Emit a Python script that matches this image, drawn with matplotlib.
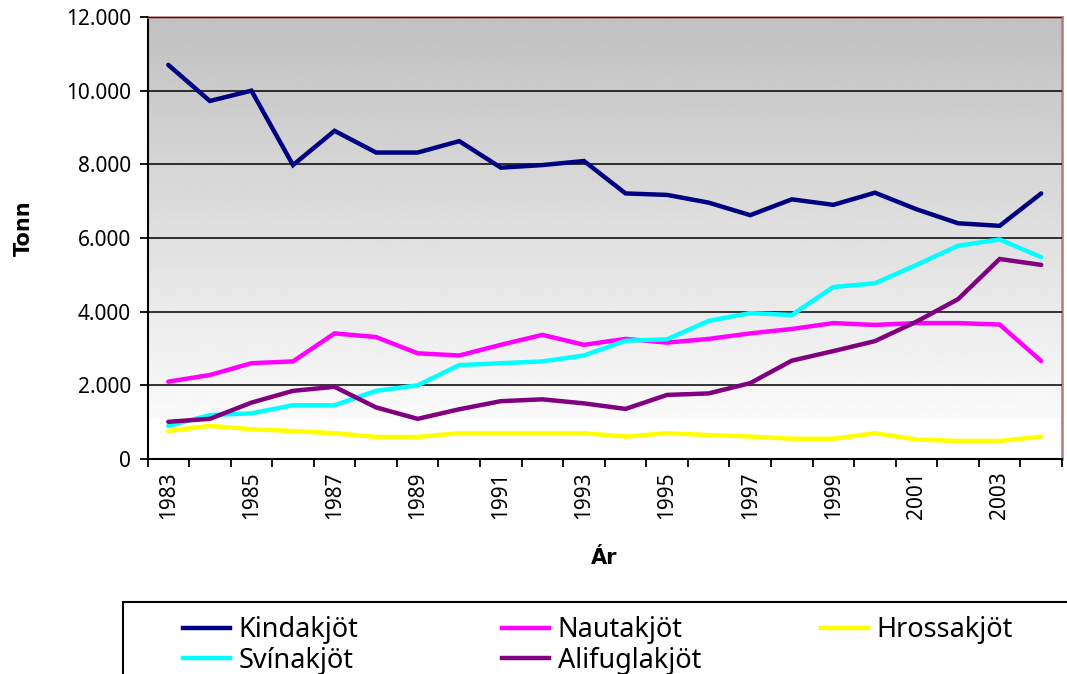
import numpy as np
import matplotlib
matplotlib.use('Agg')
import matplotlib.pyplot as plt
from matplotlib.lines import Line2D
from matplotlib.patches import Rectangle
from matplotlib.ticker import FuncFormatter, MultipleLocator

plt.rcParams['font.family'] = ['Noto Sans', 'DejaVu Sans']

# Data
years = list(range(1983, 2005))
kindakjot = [10700, 9720, 10000, 7980, 8910, 8320, 8320, 8630, 7910, 7980, 8090,
             7210, 7170, 6960, 6620, 7050, 6900, 7230, 6780, 6400, 6330, 7210]
nautakjot = [2100, 2280, 2600, 2650, 3410, 3310, 2870, 2810, 3100, 3370, 3100,
             3260, 3160, 3260, 3410, 3530, 3690, 3640, 3690, 3690, 3650, 2660]
hrossakjot = [760, 900, 810, 760, 700, 600, 600, 700, 700, 700, 700,
              610, 700, 650, 610, 550, 550, 700, 530, 490, 490, 610]
svinakjot = [900, 1190, 1240, 1460, 1460, 1850, 2000, 2550, 2600, 2650, 2810,
             3210, 3250, 3750, 3960, 3910, 4670, 4770, 5270, 5790, 5960, 5480]
alifuglakjot = [1010, 1090, 1530, 1850, 1960, 1400, 1090, 1350, 1570, 1620, 1510,
                1360, 1740, 1780, 2060, 2670, 2930, 3200, 3730, 4340, 5430, 5270]

series = [
    ('Kindakjöt', kindakjot, '#000080'),
    ('Nautakjöt', nautakjot, '#FF00FF'),
    ('Hrossakjöt', hrossakjot, '#FFFF00'),
    ('Svínakjöt', svinakjot, '#00FFFF'),
    ('Alifuglakjöt', alifuglakjot, '#800080'),
]

W, H = 1067, 674
fig = plt.figure(figsize=(W / 100, H / 100), dpi=100)
ax = fig.add_axes([147.5 / W, 1 - 459 / H, (1062 - 147.5) / W, (459 - 17) / H])

# Gray-to-white gradient in the plot area
vals = np.linspace(0, 12000, 400)
shade = np.where(vals < 1100, 255, 250 - (vals - 1100) / (12000 - 1100) * 58) / 255.0
grad = np.repeat(shade[:, None], 2, axis=1)
ax.imshow(grad, cmap='gray', vmin=0, vmax=1, origin='lower', aspect='auto',
          extent=(1982.5, 2004.5, 0, 12000), zorder=0, interpolation='bilinear')

ax.yaxis.grid(True, color='black', linewidth=1.1, zorder=1)
ax.set_axisbelow(False)

handles = []
for name, vals_, col in series:
    ln, = ax.plot(years, vals_, color=col, linewidth=3.2, solid_capstyle='round',
                  solid_joinstyle='miter', zorder=3, label=name)
    handles.append(ln)

ax.set_xlim(1982.5, 2004.5)
ax.set_ylim(0, 12000)
ax.yaxis.set_major_locator(MultipleLocator(2000))
ax.yaxis.set_major_formatter(FuncFormatter(lambda v, p: f'{int(v):,}'.replace(',', '.')))
ax.set_xticks(years[::2])
ax.set_xticks(np.arange(1982.5, 2005, 1), minor=True)
ax.set_xticklabels([str(y) for y in years[::2]], rotation=90)
ax.tick_params(axis='x', which='major', length=0, pad=9, labelsize=15)
ax.tick_params(axis='x', which='minor', length=6, width=1.3, direction='out')
ax.tick_params(axis='y', length=6, width=1.3, pad=6, labelsize=15)

for s in ['left', 'bottom']:
    ax.spines[s].set_color('black')
    ax.spines[s].set_linewidth(1.5)
for s in ['top', 'right']:
    ax.spines[s].set_color('#b07c7c')
    ax.spines[s].set_linewidth(1.8)

ax.set_ylabel('Tonn', fontsize=15, fontweight='bold', family=['DejaVu Sans'])
ax.yaxis.set_label_coords((34 - 147.5) / 914.5, (459 - 228) / 442)
ax.set_xlabel('Ár', fontsize=15, fontweight='bold', family=['DejaVu Sans'])
ax.xaxis.set_label_coords((604 - 147.5) / 914.5, -(548 - 459) / 442)

# Legend box (cut off by the bottom/right edge as in the reference)
fig.patches.append(Rectangle((123 / W, -0.2), 1.0, 0.2 + (674 - 602) / H,
                             transform=fig.transFigure, fill=False,
                             edgecolor='black', linewidth=1.5))

columns = [[0, 3], [1, 4], [2]]
col_x = [183, 502, 821]
for idx, x0 in zip(columns, col_x):
    leg = fig.legend([Line2D([], [], color=handles[i].get_color(), linewidth=3.2)
                      for i in idx],
                     [series[i][0] for i in idx],
                     loc='upper left', bbox_to_anchor=(x0 / W, (674 - 616) / H),
                     frameon=False, fontsize=19.5, borderpad=0, borderaxespad=0,
                     handlelength=1.75, handletextpad=0.3, labelspacing=0.1)

fig.savefig('out.png', dpi=100)
